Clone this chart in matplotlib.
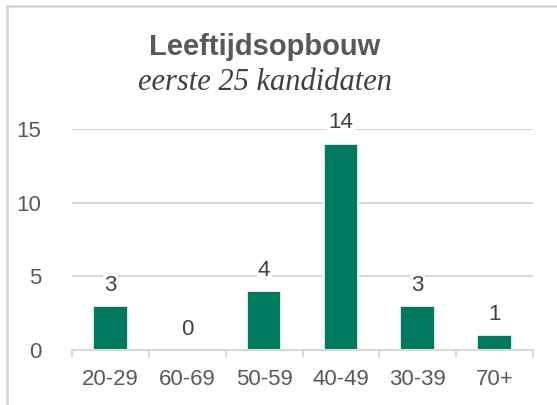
import numpy as np
import matplotlib.pyplot as plt
from matplotlib.patches import Rectangle

plt.rcParams['font.family'] = 'Liberation Sans'

categories = ['20-29', '60-69', '50-59', '40-49', '30-39', '70+']
counts = [3, 0, 4, 14, 3, 1]
yticks = [0, 5, 10, 15]

green = '#007a5e'
grid_grey = '#d9d9d9'
text_grey = '#595959'

W, H = 557, 405
fig = plt.figure(figsize=(W / 100, H / 100), dpi=100)
ax = fig.add_axes([72 / W, 1 - 350 / H, 461 / W, 221 / H])

x = np.arange(len(categories))
ax.set_axisbelow(True)
ax.yaxis.grid(True, color=grid_grey, linewidth=1.5)
ax.bar(x, counts, width=0.45, color=green, edgecolor='white', linewidth=1.2, zorder=2)

for xi, c in zip(x, counts):
    ax.annotate(str(c), (xi, c), xytext=(0, 11), textcoords='offset points',
                ha='center', va='baseline', fontsize=16, color='#404040',
                bbox=dict(facecolor='white', edgecolor='none', pad=1), zorder=3)

ax.set_xlim(-0.5, len(categories) - 0.5)
ax.set_ylim(0, 15)
ax.set_yticks(yticks)
ax.set_xticks(x)
ax.set_xticklabels(categories)
ax.set_xticks(np.arange(len(categories) + 1) - 0.5, minor=True)
ax.tick_params(axis='x', which='major', length=0, pad=14, labelsize=16, labelcolor=text_grey)
ax.tick_params(axis='x', which='minor', length=5, width=1.5, color=grid_grey)
ax.tick_params(axis='y', length=0, pad=22, labelsize=16, labelcolor=text_grey)
for s in ['left', 'top', 'right']:
    ax.spines[s].set_visible(False)
ax.spines['bottom'].set_color(grid_grey)
ax.spines['bottom'].set_linewidth(1.5)

fig.text(265 / W, 1 - 55 / H, 'Leeftijdsopbouw', ha='center', va='baseline',
         fontsize=21, fontweight='bold', color=text_grey)
fig.text(265 / W, 1 - 90 / H, 'eerste 25 kandidaten', ha='center', va='baseline',
         fontsize=22, style='italic', family='Liberation Serif', color='#404040')

# outer chart frame, cropped on the right and bottom
fig.patches.append(Rectangle((7 / W, -0.1), 1.2, 1 - 6 / H + 0.1, transform=fig.transFigure,
                             fill=False, edgecolor=grid_grey, linewidth=2))

fig.savefig('out.png', dpi=100)
